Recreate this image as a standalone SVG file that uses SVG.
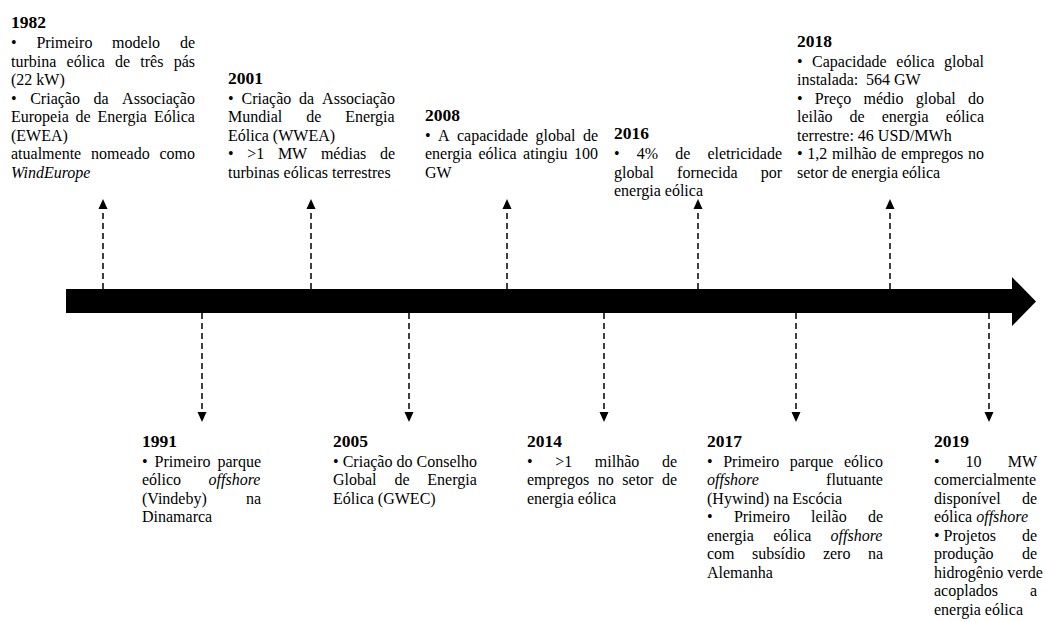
<svg xmlns="http://www.w3.org/2000/svg" width="1046" height="622" viewBox="0 0 1046 622">
<style>
.h{font-family:"Liberation Serif","Times New Roman",serif;font-weight:bold;font-size:17.5px;fill:#000}
.t{font-family:"Liberation Serif","Times New Roman",serif;font-size:16px;fill:#000}
.i{font-style:italic}
.c{stroke:#000;stroke-width:1.5;stroke-dasharray:6 4;fill:none}
</style>
<defs>
<marker id="ah" markerUnits="userSpaceOnUse" markerWidth="10" markerHeight="10" viewBox="0 0 10 10" refX="0" refY="5" orient="auto">
<path d="M0,0.5 L10,5 L0,9.5 z" fill="#000"/>
</marker>
</defs>
<rect width="1046" height="622" fill="#fff"/>
<g id="timeline">
<path d="M66,289 H1012 V277 L1036,301.5 L1012,326 V313 H66 z" fill="#000"/>
</g>
<g id="connectors">
<line class="c" x1="103" y1="289" x2="103" y2="209" marker-end="url(#ah)"/>
<line class="c" x1="311" y1="289" x2="311" y2="209" marker-end="url(#ah)"/>
<line class="c" x1="507" y1="289" x2="507" y2="209" marker-end="url(#ah)"/>
<line class="c" x1="698" y1="289" x2="698" y2="209" marker-end="url(#ah)"/>
<line class="c" x1="890" y1="289" x2="890" y2="209" marker-end="url(#ah)"/>
<line class="c" x1="202" y1="313" x2="202" y2="412" marker-end="url(#ah)"/>
<line class="c" x1="409" y1="313" x2="409" y2="412" marker-end="url(#ah)"/>
<line class="c" x1="604" y1="313" x2="604" y2="412" marker-end="url(#ah)"/>
<line class="c" x1="796" y1="313" x2="796" y2="412" marker-end="url(#ah)"/>
<line class="c" x1="989" y1="313" x2="989" y2="412" marker-end="url(#ah)"/>
</g>
<g id="n1982">
<text class="h" x="11" y="28">1982</text>
<text class="t" y="48"><tspan x="11">•</tspan><tspan x="36.4">Primeiro</tspan><tspan x="112.1">modelo</tspan><tspan x="179.9">de</tspan></text>
<text class="t" y="66.5"><tspan x="11">turbina</tspan><tspan x="66.6">eólica</tspan><tspan x="115">de</tspan><tspan x="140.3">três</tspan><tspan x="173.7">pás</tspan></text>
<text class="t" x="11" y="85">(22 kW)</text>
<text class="t" y="103.5"><tspan x="11">•</tspan><tspan x="30.2">Criação</tspan><tspan x="93.5">da</tspan><tspan x="122.1">Associação</tspan></text>
<text class="t" y="122"><tspan x="11">Europeia</tspan><tspan x="75.6">de</tspan><tspan x="97.5">Energia</tspan><tspan x="154.1">Eólica</tspan></text>
<text class="t" x="11" y="140.5">(EWEA)</text>
<text class="t" y="159"><tspan x="11">atualmente</tspan><tspan x="91">nomeado</tspan><tspan x="159.4">como</tspan></text>
<text class="t i" x="11" y="177.5">WindEurope</text>
</g>
<g id="n2001">
<text class="h" x="228" y="84">2001</text>
<text class="t" y="103.5"><tspan x="228">•</tspan><tspan x="241.5">Criação</tspan><tspan x="299.1">da</tspan><tspan x="322.1">Associação</tspan></text>
<text class="t" y="122"><tspan x="228">Mundial</tspan><tspan x="306.2">de</tspan><tspan x="345.2">Energia</tspan></text>
<text class="t" x="228" y="140.5">Eólica (WWEA)</text>
<text class="t" y="159"><tspan x="228">•</tspan><tspan x="247.3">&gt;1</tspan><tspan x="277.9">MW</tspan><tspan x="320.9">médias</tspan><tspan x="379.9">de</tspan></text>
<text class="t" x="228" y="177.5">turbinas eólicas terrestres</text>
</g>
<g id="n2008">
<text class="h" x="425" y="120.5">2008</text>
<text class="t" y="140.5"><tspan x="425">•</tspan><tspan x="438">A</tspan><tspan x="457">capacidade</tspan><tspan x="535.5">global</tspan><tspan x="582.9">de</tspan></text>
<text class="t" y="159"><tspan x="425">energia</tspan><tspan x="478.5">eólica</tspan><tspan x="523.1">atingiu</tspan><tspan x="574">100</tspan></text>
<text class="t" x="425" y="177.5">GW</text>
</g>
<g id="n2016">
<text class="h" x="614" y="139">2016</text>
<text class="t" y="159"><tspan x="614">•</tspan><tspan x="636.7">4%</tspan><tspan x="675.2">de</tspan><tspan x="707.4">eletricidade</tspan></text>
<text class="t" y="177.5"><tspan x="614">global</tspan><tspan x="677.1">fornecida</tspan><tspan x="760.7">por</tspan></text>
<text class="t" x="614" y="196">energia eólica</text>
</g>
<g id="n2018">
<text class="h" x="797" y="46.5">2018</text>
<text class="t" y="66.5"><tspan x="797">•</tspan><tspan x="812.1">Capacidade</tspan><tspan x="896.3">eólica</tspan><tspan x="944">global</tspan></text>
<text class="t" y="85"><tspan x="797">instalada:</tspan><tspan x="866">564 GW</tspan></text>
<text class="t" y="103.5"><tspan x="797">•</tspan><tspan x="814.8">Preço</tspan><tspan x="863.5">médio</tspan><tspan x="915.8">global</tspan><tspan x="968">do</tspan></text>
<text class="t" y="122"><tspan x="797">leilão</tspan><tspan x="849.6">de</tspan><tspan x="881.7">energia</tspan><tspan x="945.8">eólica</tspan></text>
<text class="t" x="797" y="140.5">terrestre: 46 USD/MWh</text>
<text class="t" y="159"><tspan x="797">•</tspan><tspan x="807.3">1,2</tspan><tspan x="832.1">milhão</tspan><tspan x="881.2">de</tspan><tspan x="901.1">empregos</tspan><tspan x="968">no</tspan></text>
<text class="t" x="797" y="177.5">setor de energia eólica</text>
</g>
<g id="n1991">
<text class="h" x="142" y="446.5">1991</text>
<text class="t" y="466.5"><tspan x="142">•</tspan><tspan x="154.5">Primeiro</tspan><tspan x="217.5">parque</tspan></text>
<text class="t" y="485"><tspan x="142">eólico</tspan><tspan class="i" x="208.6">offshore</tspan></text>
<text class="t" y="503.5"><tspan x="142">(Vindeby)</tspan><tspan x="245.9">na</tspan></text>
<text class="t" x="142" y="522">Dinamarca</text>
</g>
<g id="n2005">
<text class="h" x="333" y="446.5">2005</text>
<text class="t" y="466.5"><tspan x="333">•</tspan><tspan x="342.7">Criação</tspan><tspan x="396.5">do</tspan><tspan x="416.5">Conselho</tspan></text>
<text class="t" y="485"><tspan x="333">Global</tspan><tspan x="394.4">de</tspan><tspan x="427.3">Energia</tspan></text>
<text class="t" x="333" y="503.5">Eólica (GWEC)</text>
</g>
<g id="n2014">
<text class="h" x="527" y="446.5">2014</text>
<text class="t" y="466.5"><tspan x="527">•</tspan><tspan x="555.2">&gt;1</tspan><tspan x="594.8">milhão</tspan><tspan x="661.9">de</tspan></text>
<text class="t" y="485"><tspan x="527">empregos</tspan><tspan x="597.7">no</tspan><tspan x="622.3">setor</tspan><tspan x="661.9">de</tspan></text>
<text class="t" x="527" y="503.5">energia eólica</text>
</g>
<g id="n2017">
<text class="h" x="707" y="446.5">2017</text>
<text class="t" y="466.5"><tspan x="707">•</tspan><tspan x="723.2">Primeiro</tspan><tspan x="789.8">parque</tspan><tspan x="843.9">eólico</tspan></text>
<text class="t" y="485"><tspan class="i" x="707">offshore</tspan><tspan x="826.1">flutuante</tspan></text>
<text class="t" x="707" y="503.5">(Hywind) na Escócia</text>
<text class="t" y="522"><tspan x="707">•</tspan><tspan x="733.9">Primeiro</tspan><tspan x="811.1">leilão</tspan><tspan x="867.9">de</tspan></text>
<text class="t" y="540.5"><tspan x="707">energia</tspan><tspan x="773.2">eólica</tspan><tspan class="i" x="830.6">offshore</tspan></text>
<text class="t" y="559"><tspan x="707">com</tspan><tspan x="752">subsídio</tspan><tspan x="822.9">zero</tspan><tspan x="867.9">na</tspan></text>
<text class="t" x="707" y="577.5">Alemanha</text>
</g>
<g id="n2019">
<text class="h" x="934" y="446.5">2019</text>
<text class="t" y="466.5"><tspan x="934">•</tspan><tspan x="965.6">10</tspan><tspan x="1007.7">MW</tspan></text>
<text class="t" x="934" y="485">comercialmente</text>
<text class="t" y="503.5"><tspan x="934">disponível</tspan><tspan x="1021.9">de</tspan></text>
<text class="t" y="522"><tspan x="934">eólica </tspan><tspan class="i">offshore</tspan></text>
<text class="t" y="540.5"><tspan x="934">• Projetos</tspan><tspan x="1021.9">de</tspan></text>
<text class="t" y="559"><tspan x="934">produção</tspan><tspan x="1021.9">de</tspan></text>
<text class="t" x="934" y="577.5">hidrogênio verde</text>
<text class="t" y="596"><tspan x="934">acoplados</tspan><tspan x="1029.9">a</tspan></text>
<text class="t" x="934" y="614.5">energia eólica</text>
</g>
</svg>
